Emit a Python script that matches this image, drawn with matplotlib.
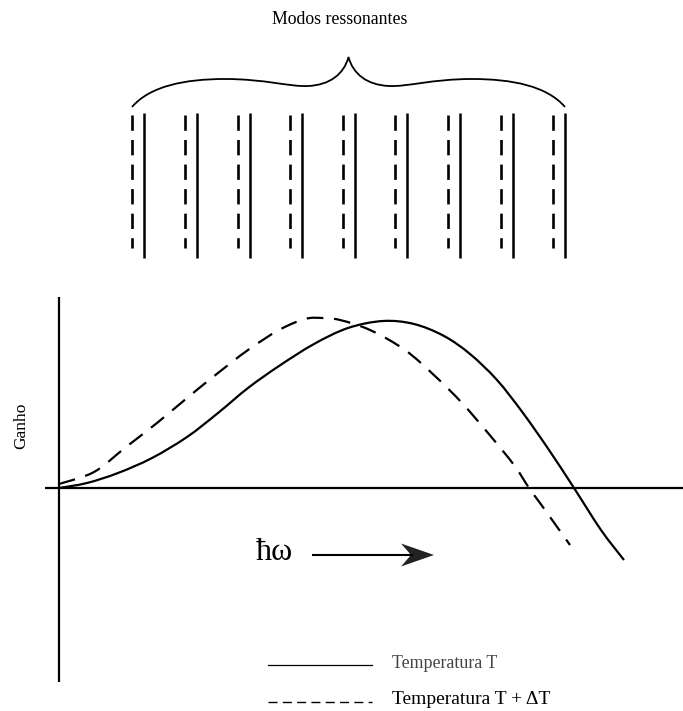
import numpy as np
import matplotlib
matplotlib.use("Agg")
import matplotlib.pyplot as plt
from matplotlib.path import Path
from matplotlib.patches import PathPatch, Polygon

plt.rcParams['font.family'] = ['Liberation Serif', 'DejaVu Serif']

# Gain spectrum (arbitrary units): photon energy vs gain
energy_T = [0.00, 0.28, 0.59, 0.93, 1.28, 1.59, 1.89, 2.20, 2.55, 2.89,
            3.24, 3.55, 3.85, 4.11, 4.38, 4.64, 4.90, 5.15, 5.42, 5.65]
gain_T = [0.00, 0.05, 0.15, 0.30, 0.51, 0.75, 1.00, 1.22, 1.44, 1.60,
          1.67, 1.64, 1.52, 1.34, 1.08, 0.75, 0.38, 0.00, -0.42, -0.72]

energy_dT = [0.00, 0.35, 0.67, 0.98, 1.28, 1.59, 1.89, 2.20, 2.46, 2.63,
             2.81, 3.11, 3.46, 3.77, 4.03, 4.29, 4.55, 4.70, 4.81, 5.11]
gain_dT = [0.04, 0.16, 0.41, 0.65, 0.90, 1.15, 1.38, 1.58, 1.69, 1.70,
           1.68, 1.58, 1.38, 1.11, 0.85, 0.55, 0.23, 0.00, -0.15, -0.57]

# Resonant cavity modes (mode number) and their shift at T + dT
mode_number = [1, 2, 3, 4, 5, 6, 7, 8, 9]
mode_shift_dT = -0.23

title_text = "Modos ressonantes"
ylabel_text = "Ganho"
xlabel_text = "ħω"
legend_labels = ["Temperatura T", "Temperatura T + ΔT"]

W, H = 683, 711
fig = plt.figure(figsize=(W / 100, H / 100), dpi=100)
fig.patch.set_facecolor("white")


def frac(x0, y0, x1, y1):
    """Pixel box (top-left origin) -> figure fraction rect."""
    return [x0 / W, 1 - y1 / H, (x1 - x0) / W, (y1 - y0) / H]


def smooth_path(xs, ys):
    """Cubic Bezier path passing through every (x, y) point (Catmull-Rom)."""
    p = np.column_stack([xs, ys]).astype(float)
    ext = np.vstack([p[0], p, p[-1]])
    verts = [tuple(p[0])]
    codes = [Path.MOVETO]
    for i in range(1, len(ext) - 2):
        p0, p1, p2, p3 = ext[i - 1], ext[i], ext[i + 1], ext[i + 2]
        c1 = p1 + (p2 - p0) / 6.0
        c2 = p2 - (p3 - p1) / 6.0
        verts += [tuple(c1), tuple(c2), tuple(p2)]
        codes += [Path.CURVE4] * 3
    return Path(verts, codes)


# ---- gain curves ----
ax = fig.add_axes(frac(45, 297, 683, 682))
ax.set_xlim(-0.14, 6.24)
ax.set_ylim(-1.94, 1.91)
ax.axis("off")
ax.axhline(0, color="black", lw=1.6)
ax.axvline(0, color="black", lw=1.6)
ax.add_patch(PathPatch(smooth_path(energy_T, gain_T), fill=False,
                       color="black", lw=1.6))
ax.add_patch(PathPatch(smooth_path(energy_dT, gain_dT), fill=False,
                       color="black", lw=1.6, linestyle=(0, (7.5, 4.8))))

# ---- resonant modes ----
axm = fig.add_axes(frac(0, 0, W, 280))
axm.set_xlim(-1.747, 11.238)
axm.set_ylim(280, 0)
axm.axis("off")
modes = np.array(mode_number, dtype=float)
for m in modes:
    axm.plot([m, m], [113, 258], color="black", lw=1.8, solid_capstyle="butt")
    axm.plot([m + mode_shift_dT] * 2, [115, 248], color="black", lw=1.9,
             linestyle=(0, (5.8, 3.5)))

# ---- annotation layer in pixel units ----
ov = fig.add_axes([0, 0, 1, 1])
ov.set_xlim(0, W)
ov.set_ylim(H, 0)
ov.axis("off")
ov.patch.set_alpha(0)

ov.text(340, 19, title_text, ha="center", va="center", fontsize=12.8)

# curly brace over the modes
cx = 348.5
left = [(132, 107), (150, 86), (185, 79), (225, 79),
        (265, 79), (290, 87), (308, 86),
        (330, 85), (344, 74), (348.5, 57)]
right = [(2 * cx - x, y) for x, y in reversed(left[:-1])]
verts = left + right
codes = [Path.MOVETO] + [Path.CURVE4] * (len(verts) - 1)
ov.add_patch(PathPatch(Path(verts, codes), fill=False, lw=1.3, color="black"))

ov.text(21, 426, ylabel_text, rotation=90, ha="center", va="center", fontsize=12.5)

ov.text(274, 553, xlabel_text, ha="center", va="center", fontsize=23)
ov.plot([313, 412], [555, 555], color="black", lw=1.5)
ov.add_patch(Polygon([(434, 555), (401, 543.5), (411, 555), (401, 566.5)],
                     closed=True, color="#222222", lw=0))

# legend
ov.plot([268, 372], [665, 665], color="black", lw=0.9)
ov.text(392, 664, legend_labels[0], ha="left", va="center", fontsize=12.9,
        color="#444444")
ov.plot([268, 372], [702, 702], color="black", lw=1.0, linestyle=(0, (6.5, 3.8)))
ov.text(392, 699, legend_labels[1], ha="left", va="center", fontsize=14,
        color="black")

fig.savefig("out.png", dpi=100, facecolor="white")
